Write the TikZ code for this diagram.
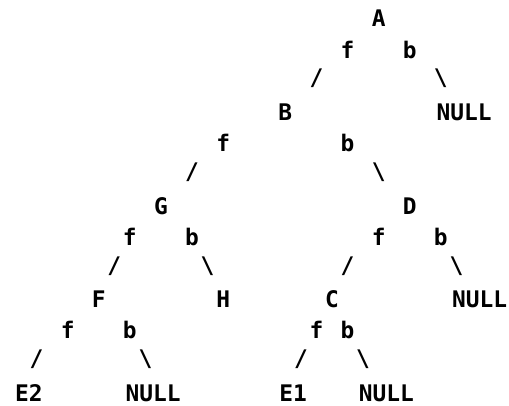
\documentclass[tikz,border=0pt]{standalone}
\usepackage{fontspec}
\newfontfamily\treefont{DejaVu Sans Mono}
\usetikzlibrary{positioning}

\begin{document}
\begin{tikzpicture}[
  x=0.311cm, y=-0.624cm,
  cell/.style={anchor=base, inner sep=0pt, text=black,
               font=\treefont\bfseries\fontsize{13}{13}\selectfont},
  lnk/.style={cell, yshift=2pt}
]
\useasboundingbox (-1.3505,-0.865) rectangle (31.383,12.147);

%% Root A
\node[cell] (A) at (23,0) {A};
\node[cell] (Af) at (21,1) {f};
\node[cell] (Ab) at (25,1) {b};
\node[lnk] (Al) at (19,2) {/};
\node[lnk] (Ar) at (27,2) {\textbackslash};

%% B and NULL
\node[cell] (B) at (17,3) {B};
\node[cell] (nullA) at (28.5,3) {NULL};
\node[cell] (Bf) at (13,4) {f};
\node[cell] (Bb) at (21,4) {b};
\node[lnk] (Bl) at (11,5) {/};
\node[lnk] (Br) at (23,5) {\textbackslash};

%% G and D
\node[cell] (G) at (9,6) {G};
\node[cell] (D) at (25,6) {D};
\node[cell] (Gf) at (7,7) {f};
\node[cell] (Gb) at (11,7) {b};
\node[cell] (Df) at (23,7) {f};
\node[cell] (Db) at (27,7) {b};
\node[lnk] (Gl) at (6,8) {/};
\node[lnk] (Gr) at (12,8) {\textbackslash};
\node[lnk] (Dl) at (21,8) {/};
\node[lnk] (Dr) at (28,8) {\textbackslash};

%% F, H, C and NULL
\node[cell] (F) at (5,9) {F};
\node[cell] (H) at (13,9) {H};
\node[cell] (C) at (20,9) {C};
\node[cell] (nullD) at (29.5,9) {NULL};
\node[cell] (Ff) at (3,10) {f};
\node[cell] (Fb) at (7,10) {b};
\node[cell] (Cf) at (19,10) {f};
\node[cell] (Cb) at (21,10) {b};
\node[lnk] (Fl) at (1,11) {/};
\node[lnk] (Fr) at (8,11) {\textbackslash};
\node[lnk] (Cl) at (18,11) {/};
\node[lnk] (Cr) at (22,11) {\textbackslash};

%% Leaves
\node[cell] (E2) at (0.5,12) {E2};
\node[cell] (nullF) at (8.5,12) {NULL};
\node[cell] (E1) at (17.5,12) {E1};
\node[cell] (nullC) at (23.5,12) {NULL};

\end{tikzpicture}
\end{document}
